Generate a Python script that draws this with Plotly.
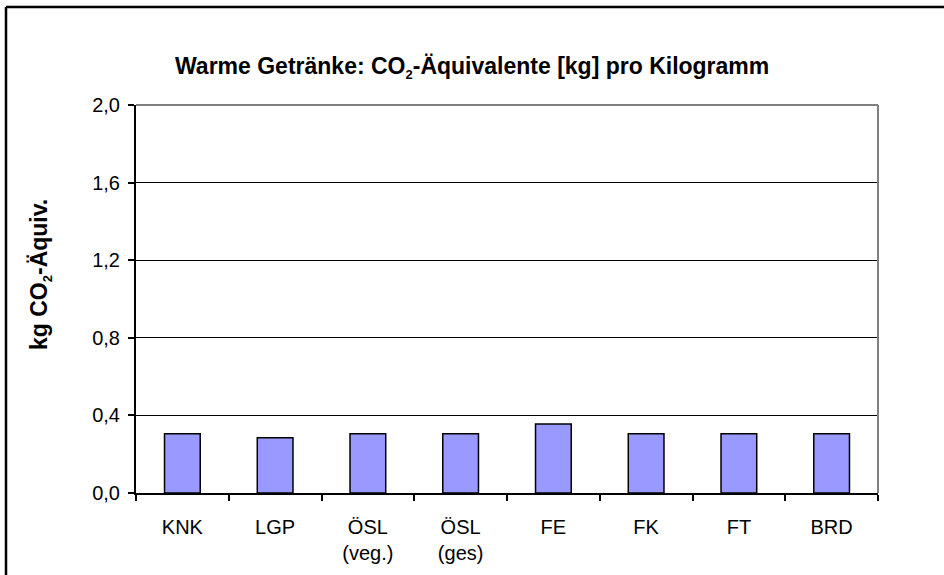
import plotly.graph_objects as go

categories = ["KNK", "LGP", "ÖSL<br>(veg.)", "ÖSL<br>(ges)", "FE", "FK", "FT", "BRD"]
values = [0.305, 0.285, 0.305, 0.305, 0.356, 0.305, 0.305, 0.305]
y_tickvals = [0.0, 0.4, 0.8, 1.2, 1.6, 2.0]
y_ticktext = ["0,0", "0,4", "0,8", "1,2", "1,6", "2,0"]

FONT = "Liberation Sans, Arial, sans-serif"

fig = go.Figure(go.Bar(
    x=categories, y=values,
    marker=dict(color="#9999FF", line=dict(color="black", width=1.5)),
    hoverinfo="x+y",
))

L, R, T, B = 136, 66, 105, 82
W, H = 944, 575
pw, ph = W - L - R, H - T - B

def px_x(p):
    return (p - L) / pw

def px_y(p):
    return (H - B - p) / ph

fig.update_layout(
    width=W, height=H,
    margin=dict(l=L, r=R, t=T, b=B, pad=0),
    paper_bgcolor="white", plot_bgcolor="white",
    font=dict(family=FONT, size=20, color="black"),
    bargap=0.615,
    showlegend=False,
    xaxis=dict(
        type="category", tickson="boundaries", ticks="outside", ticklen=6,
        tickcolor="black", tickwidth=1.5, showline=True, linecolor="black", linewidth=2,
        showgrid=False, ticklabelstandoff=15, tickfont=dict(size=20),
    ),
    yaxis=dict(
        range=[0, 2.0], tickvals=y_tickvals, ticktext=y_ticktext,
        ticks="outside", ticklen=6, tickcolor="black", tickwidth=1.5,
        showline=True, linecolor="black", linewidth=2,
        showgrid=True, gridcolor="black", gridwidth=1, zeroline=False,
        tickfont=dict(size=20), ticklabelstandoff=4,
    ),
    shapes=[
        dict(type="line", xref="paper", yref="paper", x0=0, x1=1, y0=1, y1=1,
             line=dict(color="#808080", width=2), layer="above"),
        dict(type="line", xref="paper", yref="paper", x0=1, x1=1, y0=0, y1=1,
             line=dict(color="#808080", width=2), layer="above"),
        dict(type="line", xref="paper", yref="paper",
             x0=px_x(6), x1=px_x(W + 20), y0=px_y(7), y1=px_y(7),
             line=dict(color="black", width=2.5), layer="above"),
        dict(type="line", xref="paper", yref="paper",
             x0=px_x(6), x1=px_x(6), y0=px_y(7), y1=px_y(H + 20),
             line=dict(color="black", width=2.5), layer="above"),
    ],
    annotations=[
        dict(text="<b>Warme Getränke: CO<sub><span style='font-size:13px'>2</span></sub>-Äquivalente [kg] pro Kilogramm</b>",
             xref="paper", yref="paper", x=px_x(W / 2), y=px_y(68),
             xanchor="center", yanchor="middle", showarrow=False,
             font=dict(size=23, family=FONT)),
        dict(text="<b>kg CO<sub><span style='font-size:13px'>2</span></sub>-Äquiv.</b>",
             xref="paper", yref="paper", x=px_x(40), y=px_y(275),
             xanchor="center", yanchor="middle", showarrow=False, textangle=-90,
             font=dict(size=23, family=FONT)),
    ],
)

fig.write_html(
    "out.html",
    config={"displayModeBar": False},
    post_script="document.body.style.margin='0';document.body.style.overflow='hidden';",
)
